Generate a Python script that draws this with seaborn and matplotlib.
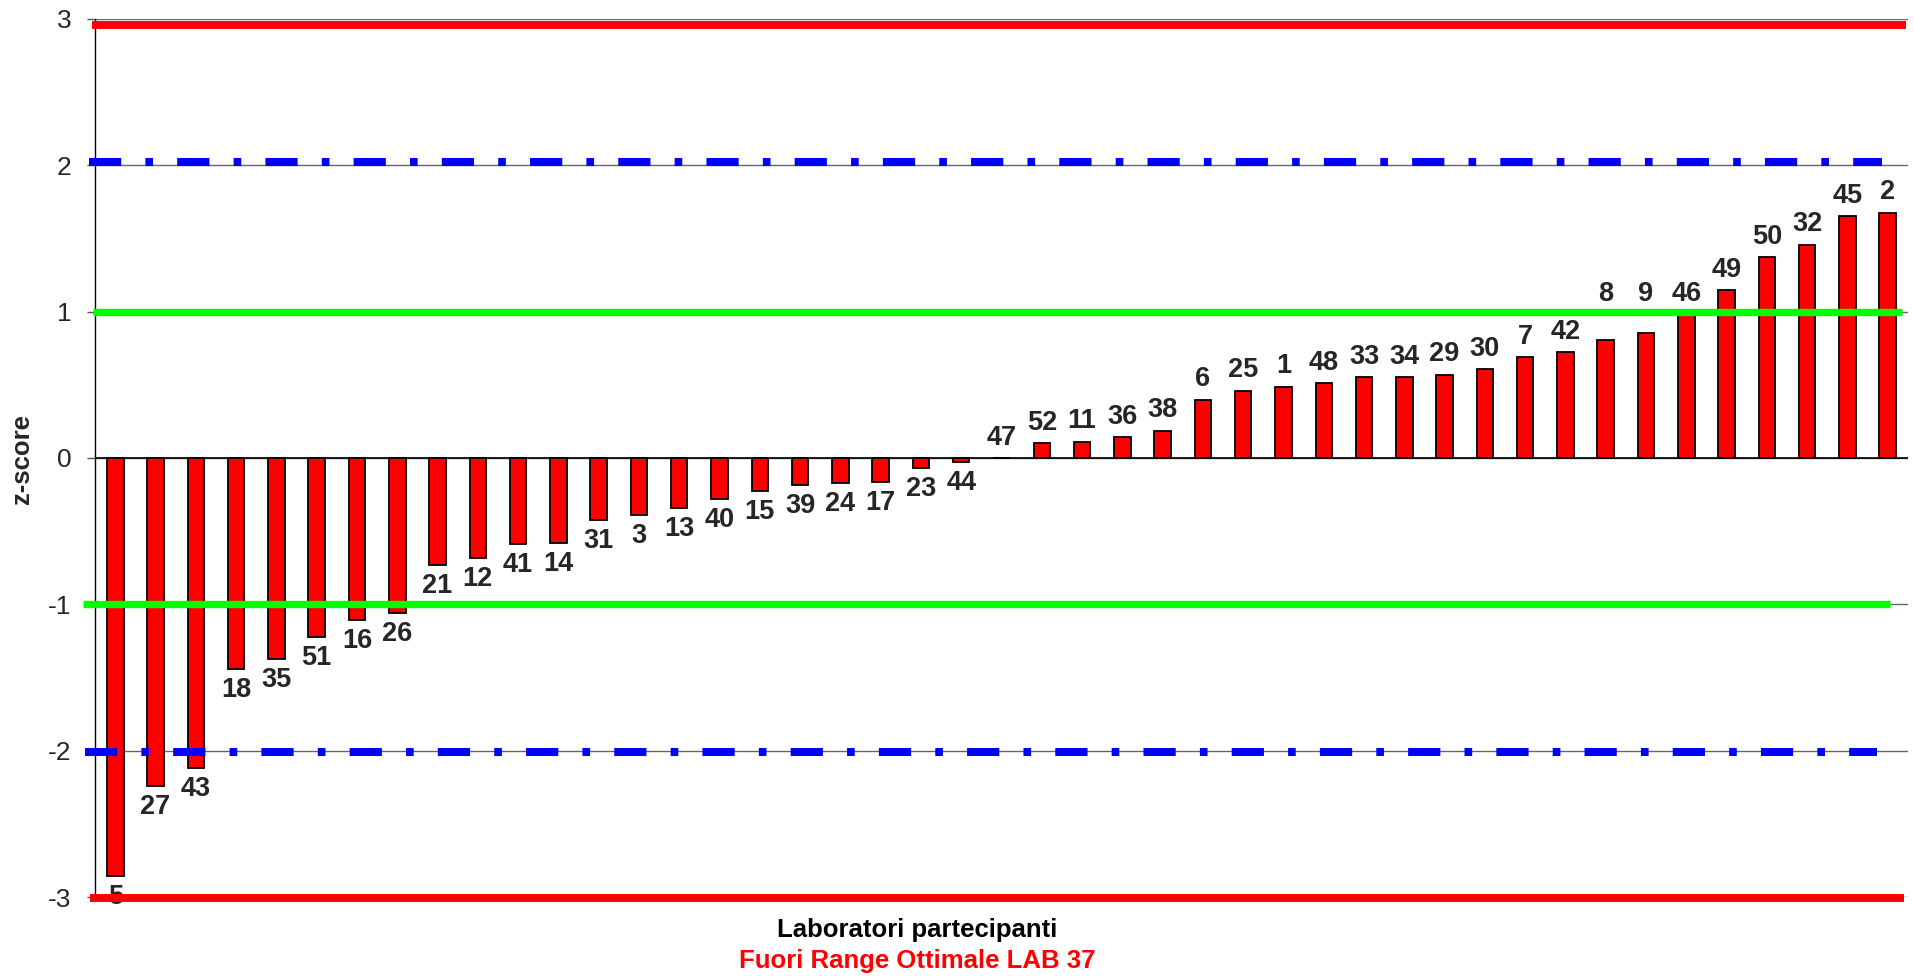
import matplotlib
matplotlib.use('Agg')
import matplotlib.pyplot as plt
import seaborn as sns

# codici laboratorio, ordinati per z-score
labs = ['5', '27', '43', '18', '35', '51', '16', '26', '21', '12', '41', '14',
        '31', '3', '13', '40', '15', '39', '24', '17', '23', '44', '47', '52',
        '11', '36', '38', '6', '25', '1', '48', '33', '34', '29', '30', '7',
        '42', '8', '9', '46', '49', '50', '32', '45', '2']
zscores = [-2.855, -2.24, -2.115, -1.44, -1.37, -1.22, -1.107, -1.06, -0.73,
           -0.686, -0.586, -0.579, -0.424, -0.388, -0.342, -0.28, -0.228,
           -0.183, -0.168, -0.162, -0.071, -0.027, 0.0, 0.102, 0.111, 0.143,
           0.187, 0.398, 0.46, 0.487, 0.51, 0.553, 0.553, 0.569, 0.606, 0.69,
           0.722, 0.804, 0.85, 0.977, 1.148, 1.371, 1.456, 1.651, 1.675]

yticks = [-3, -2, -1, 0, 1, 2, 3]
ylabel = 'z-score'
xlabel = 'Laboratori partecipanti'
note = 'Fuori Range Ottimale LAB 37'

sns.set_style('white')
plt.rcParams['font.family'] = ['Liberation Sans', 'DejaVu Sans']
plt.rcParams['axes.unicode_minus'] = False

fig = plt.figure(figsize=(19.14, 9.76), dpi=100)
ax = fig.add_axes([0.0497, 0.0808, 0.9471, 0.9000])

sns.barplot(x=labs, y=zscores, order=labs, color='#FF0000', saturation=1,
            edgecolor='black', linewidth=1.3, width=0.41, ax=ax, zorder=2)

ax.set_xlim(-0.5, len(labs) - 0.5)
ax.set_ylim(-3, 3)
ax.set_yticks(yticks)
ax.set_yticklabels([str(t) for t in yticks], fontsize=19)
ax.tick_params(axis='y', direction='out', length=6, width=1, color='#555555',
               left=True, pad=11)
ax.tick_params(axis='x', bottom=False, labelbottom=False)
ax.set_xlabel('')
ax.set_ylabel('')

# griglia orizzontale
for t in yticks:
    ax.axhline(t, color='#666666', lw=1, zorder=0)
ax.axhline(0, color='black', lw=1.2, zorder=1.5)

for s in ['top', 'right', 'bottom']:
    ax.spines[s].set_visible(False)
ax.spines['left'].set_color('black')
ax.spines['left'].set_linewidth(1)

# etichette dei laboratori (spostate sopra la linea verde se ci finiscono sotto)
for p, lab, v in zip(ax.patches, labs, zscores):
    cx = p.get_x() + p.get_width() / 2
    if v < 0:
        ax.text(cx, v - 0.055, lab, ha='center', va='top', fontsize=19.5,
                fontweight='bold', zorder=3)
    else:
        ty = v + 0.05
        if v < 1 and ty + 0.17 > 0.975:
            ty = max(ty, 1.03)
        ax.text(cx, ty, lab, ha='center', va='bottom', fontsize=19.5,
                fontweight='bold', zorder=3)

# limiti di riferimento
ax.axhline(2.96, xmin=-0.002, xmax=0.999, color='#FF0000', lw=5.7,
           zorder=4, clip_on=False, solid_capstyle='butt')
ax.axhline(-3.005, xmin=-0.003, xmax=0.998, color='#FF0000', lw=5.7,
           zorder=4, clip_on=False, solid_capstyle='butt')
ax.axhline(2.022, xmin=-0.0035, xmax=0.986, color='#0000FF', lw=5.8,
           ls=(0, (4, 3, 0.95, 3)), zorder=4, clip_on=False)
ax.axhline(-2.012, xmin=-0.0055, xmax=0.983, color='#0000FF', lw=5.8,
           ls=(0, (4, 3, 0.95, 3)), zorder=4, clip_on=False)
ax.axhline(1.0, xmin=-0.001, xmax=0.9967, color='#00FF00', lw=5.3,
           zorder=4, clip_on=False, solid_capstyle='butt')
ax.axhline(-0.997, xmin=-0.0066, xmax=0.990, color='#00FF00', lw=5.3,
           zorder=4, clip_on=False, solid_capstyle='butt')

fig.text(0.0115, 0.53, ylabel, rotation=90, ha='center', va='center',
         fontsize=18.5, fontweight='bold')
fig.text(0.479, 0.0403, xlabel, ha='center', va='baseline', fontsize=18.5,
         fontweight='bold', color='black')
fig.text(0.479, 0.0079, note, ha='center', va='baseline', fontsize=18.5,
         fontweight='bold', color='#FF0000')

fig.savefig('out.png', dpi=100, facecolor='white')
